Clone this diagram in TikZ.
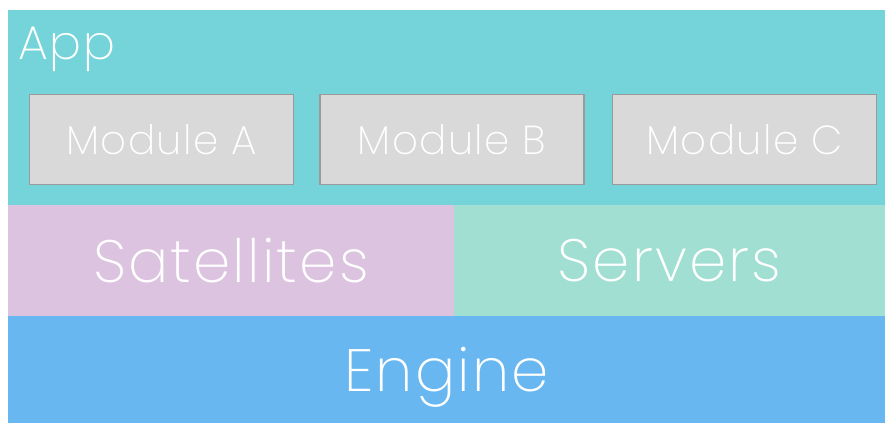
\documentclass[tikz,border=0pt]{standalone}
\usepackage{fontspec}
\setmainfont{Poppins ExtraLight}[LetterSpace=3.5]
\usetikzlibrary{positioning}

\definecolor{appteal}{HTML}{75D4D9}
\definecolor{satlilac}{HTML}{DCC3DF}
\definecolor{srvmint}{HTML}{A0DFD2}
\definecolor{engblue}{HTML}{68B7F0}
\definecolor{modgray}{HTML}{D9D9D9}
\definecolor{modedge}{HTML}{9A9A9A}

\newlength{\unitpx}
\setlength{\unitpx}{0.02cm}
\tikzset{
	layer/.style={rectangle, inner sep=0pt, outer sep=0pt, text=white, text depth=0pt},
	module/.style={rectangle, draw=modedge, line width=1.1pt, fill=modgray, text=white,
		minimum width=264\unitpx, minimum height=90\unitpx, inner sep=0pt, text depth=0pt,
		font=\fontsize{23}{26}\selectfont},
	big/.style={font=\fontsize{34}{38}\selectfont},
}

\begin{document}
\begin{tikzpicture}[x=0.02cm, y=-0.02cm]
		\useasboundingbox (0,0) rectangle (885,423);
		% livello app
		\node[layer, fill=appteal, anchor=north west, minimum width=877\unitpx, minimum height=195\unitpx] (app) at (8,10) {};
		\node[text=white, anchor=base west, inner sep=0pt, font=\fontsize{27}{30}\selectfont] (apptitle) at (18,59) {App};
		% moduli
		\node[module] (moda) at (161.5,139.5) {Module A};
		\node[module] (modb) at (452,139.5) {Module B};
		\node[module] (modc) at (744.5,139.5) {Module C};
		% satelliti e server
		\node[layer, big, fill=satlilac, anchor=north west, minimum width=446\unitpx, minimum height=111\unitpx] (sat) at (8,205) {Satellites};
		\node[layer, big, fill=srvmint, anchor=north west, minimum width=431\unitpx, minimum height=111\unitpx] (srv) at (454,205) {Servers};
		% motore
		\node[layer, big, fill=engblue, anchor=north west, minimum width=877\unitpx, minimum height=107\unitpx] (eng) at (8,316) {Engine};
	\end{tikzpicture}
\end{document}
